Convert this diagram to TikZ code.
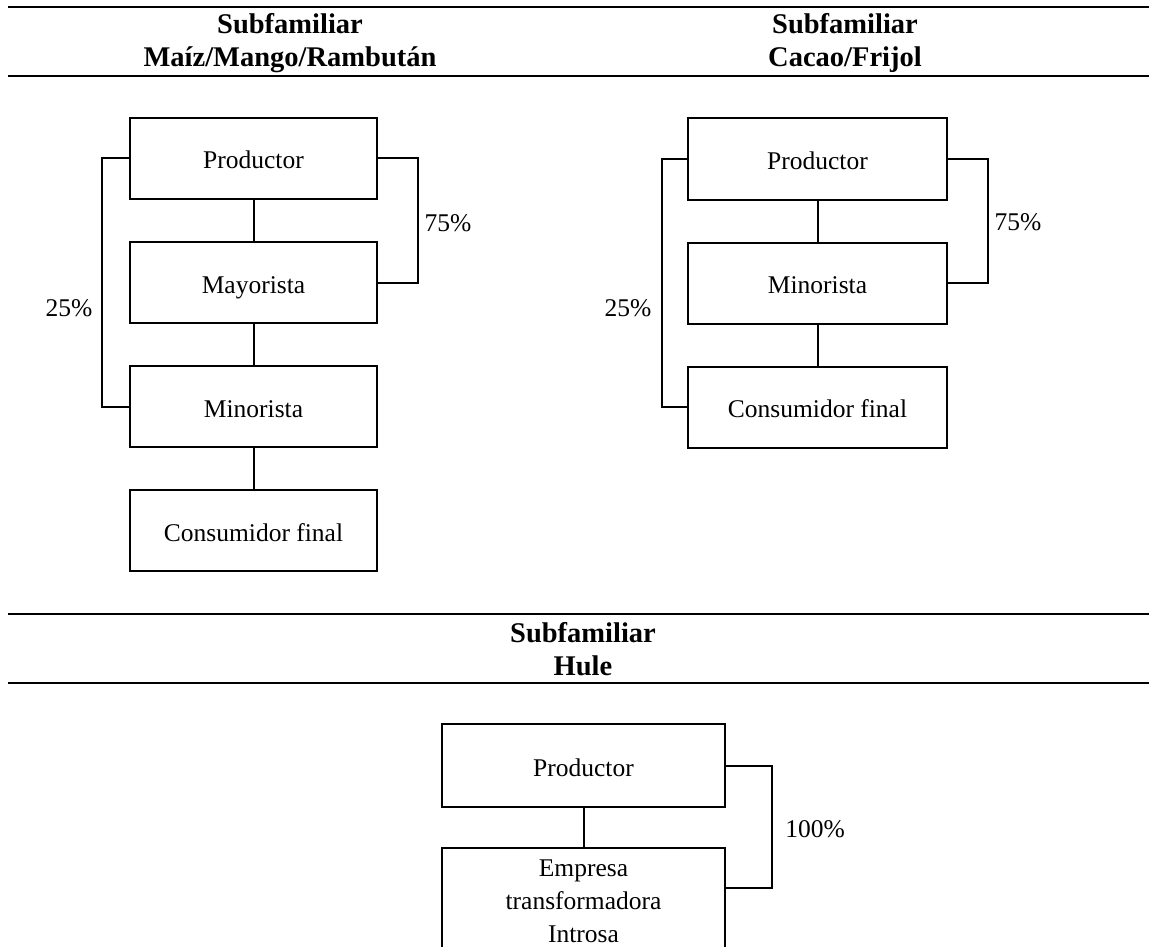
\documentclass[tikz,border=0pt]{standalone}
\usepackage{fontspec}
\setmainfont{Liberation Serif}
\newcommand*{\bodyfont}{\fontsize{25.5}{33}\selectfont}
\newcommand*{\headfont}{\fontsize{28.5}{33}\selectfont\bfseries}
\usetikzlibrary{positioning}
\usetikzlibrary{calc}
\tikzstyle{base}=[x=1pt, y=-1pt, line width=2pt, inner sep=0pt, outer sep=0pt, node distance=43pt]
\tikzstyle{box}=[draw, minimum width=247pt, minimum height=81pt, align=center, text height=21pt, text depth=0pt]
\tikzstyle{head}=[align=center, font=\headfont]
\tikzstyle{rule}=[line width=2.5pt]

\begin{document}
\begin{tikzpicture}[base]
    \bodyfont
        \path [use as bounding box] (0,0) rectangle (1149,947);
        % upper headers
        \draw [rule] (8,7) -- (1149,7);
        \draw [rule] (8,76) -- (1149,76);
        \node [head] (hmaiz) at (290,43.5) {Subfamiliar\\Maíz/Mango/Rambután};
        \node [head] (hcacao) at (845,43.5) {Subfamiliar\\Cacao/Frijol};
        % Maiz/Mango/Rambutan
        \node [box] (lprod) at (253.5,158.5) {Productor};
        \node [box, below=of lprod] (lmay) {Mayorista};
        \node [box, below=of lmay] (lmin) {Minorista};
        \node [box, below=of lmin] (lcons) {Consumidor final};
        \draw (lprod) -- (lmay);
        \draw (lmay) -- (lmin);
        \draw (lmin) -- (lcons);
        \draw (lprod.west) -- ++(-28,0) |- (lmin.west);
        \draw (lprod.east) -- ++(41,0) |- (lmay.east);
        \node (lpctl) at (69,308) {25\%};
        \node (lpctr) at (448,223) {75\%};
        % Cacao/Frijol
        \node [box, minimum width=259pt] (rprod) at (817.5,159) {Productor};
        \node [box, minimum width=259pt, below=of rprod] (rmin) {Minorista};
        \node [box, minimum width=259pt, below=of rmin] (rcons) {Consumidor final};
        \draw (rprod) -- (rmin);
        \draw (rmin) -- (rcons);
        \draw (rprod.west) -- ++(-26,0) |- (rcons.west);
        \draw (rprod.east) -- ++(41,0) |- (rmin.east);
        \node (rpctl) at (628,308) {25\%};
        \node (rpctr) at (1018,222) {75\%};
        % Hule
        \draw [rule] (8,614) -- (1149,614);
        \draw [rule] (8,683) -- (1149,683);
        \node [head] (hhule) at (583,649.5) {Subfamiliar\\Hule};
        \node [box, minimum width=283pt, minimum height=83pt] (hprod) at (583.5,765.5) {Productor};
        \node [box, minimum width=283pt, minimum height=106pt, text height=, text depth=, below=41pt of hprod] (hemp) {Empresa\\transformadora\\Introsa};
        \draw (hprod) -- (hemp);
        \draw (hprod.east) -- ++(47,0) |- ($(hemp.north east)+(0,40)$);
        \node (hpct) at (815,829) {100\%};
    \end{tikzpicture}
\end{document}
